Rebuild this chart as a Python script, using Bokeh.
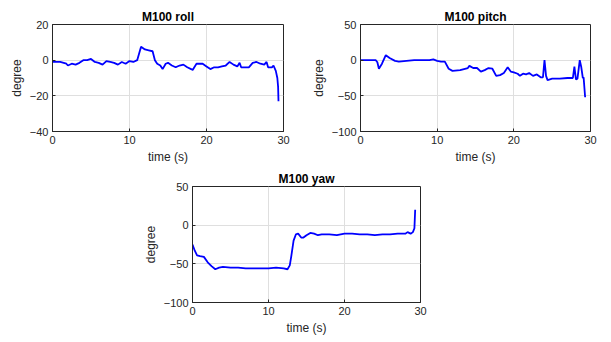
from bokeh.plotting import figure
from bokeh.layouts import column, row
from bokeh.models import Spacer, FixedTicker
from bokeh.embed import file_html
from bokeh.resources import INLINE

roll_t = [0, 1, 1.8, 2, 2.5, 3, 3.5, 4, 4.5, 5, 5.5, 6, 6.5, 7, 7.5, 8, 8.5, 9, 9.5, 10, 10.5, 11,
          11.5, 12, 12.5, 13, 13.3, 13.6, 14, 14.3, 14.7, 15, 15.5, 16, 16.5, 17, 17.5, 18, 18.2,
          18.7, 19.5, 20, 20.5, 21, 21.5, 22, 22.5, 23, 23.5, 24, 24.3, 24.5, 25, 25.5, 26, 26.5,
          27, 27.5, 27.8, 28, 28.5, 28.7, 29, 29.2, 29.3, 29.35]
roll_deg = [-1, -1, -2, -3, -2, -2.5, -1.5, 0, 0, 0.7, -1, -1.5, -2.5, -0.5, -1, -1.5, -2.5, -1, -2,
            -0.5, -1, 0, 7.5, 6, 5.5, 5, 0, -2, -3, -5, -2, -1.5, -3, -4, -3, -2.5, -4, -5, -5.5,
            -2, -2, -3.5, -5, -4, -4, -3.5, -3, -1, -2.5, -3.5, -1.5, -4, -4, -4, -1.5, -1,
            -2, -2.5, -1, -4, -4, -3, -6, -10, -15, -23]

pitch_t = [0, 2, 2.2, 2.4, 2.8, 3.3, 3.8, 4.5, 5, 6, 7, 8, 9, 9.5, 10, 10.5, 11, 11.5, 12, 13, 14,
           14.2, 14.7, 15.2, 15.7, 16.2, 16.7, 17.2, 17.7, 18.2, 18.7, 19.2, 19.6, 20, 20.5, 20.8,
           21.2, 21.6, 22, 22.5, 23, 23.5, 23.8, 24.0, 24.2, 24.4, 25, 26, 27, 27.7, 27.9, 28.1,
           28.3, 28.6, 28.8, 29.0, 29.1, 29.3]
pitch_deg = [0, 0, -3, -12, -5, 7, 3, -1, -2, -1, 0, 0, 0, 1, -1, -2, -2, -12, -15, -14, -11,
             -8, -11, -11, -16, -14, -11, -12, -22, -21, -18, -10, -16, -17, -19, -22,
             -19, -20, -18, -22, -20, -24, -24, 0, -22, -28, -26, -26, -25, -25, -9, -27,
             -26, 0, -10, -25, -24, -52]

yaw_t = [0, 0.3, 0.6, 1, 1.5, 2, 2.5, 3, 3.5, 4, 5, 6, 7, 8, 9, 10, 11, 12, 12.5, 12.8, 13, 13.3,
         13.6, 13.9, 14.3, 14.6, 15, 15.5, 16, 16.5, 17, 18, 19, 20, 21, 22, 23, 24, 25, 26, 27,
         28, 28.3, 28.7, 29, 29.2, 29.3]
yaw_deg = [-25, -33, -39, -40, -41, -48, -53, -57, -55, -54, -55, -55, -56, -56, -56, -56, -55,
           -56, -57, -52, -40, -20, -12, -11, -16, -16, -13, -10, -11, -13, -12, -12, -13, -11,
           -11, -12, -12, -13, -12, -12, -11, -11, -9, -11, -9, -4, 20]

titles = ["M100 roll", "M100 pitch", "M100 yaw"]
x_ticks = [0, 10, 20, 30]
roll_ticks = [-40, -20, 0, 20]
py_ticks = [-100, -50, 0, 50]

FONT = "Liberation Sans"
TXT = "#262626"


def make(title, t, d, yr, yticks, width, height, bl, br, bt, bb):
    p = figure(width=width, height=height, x_range=(0, 30), y_range=yr,
               output_backend="svg", toolbar_location=None,
               min_border_left=bl, min_border_right=br, min_border_top=bt, min_border_bottom=bb)
    p.line(t, d, line_color="#0000FF", line_width=1.8)
    p.title.text = title
    p.title.align = "center"
    p.title.text_font = FONT
    p.title.text_font_size = "12px"
    p.title.text_font_style = "bold"
    p.title.text_color = "black"
    p.title.standoff = 1
    p.title.offset = 0
    p.outline_line_color = "#262626"
    p.outline_line_alpha = 1
    p.outline_line_width = 1
    for ax, ticks, lab in ((p.xaxis[0], x_ticks, "time (s)"), (p.yaxis[0], yticks, "degree")):
        ax.ticker = FixedTicker(ticks=ticks)
        ax.axis_label = lab
        ax.axis_label_text_font = FONT
        ax.axis_label_text_font_size = "12px"
        ax.axis_label_text_font_style = "normal"
        ax.axis_label_text_color = TXT
        ax.axis_label_standoff = 3
        ax.major_label_text_font = FONT
        ax.major_label_text_font_size = "11px"
        ax.major_label_text_color = TXT
        ax.major_label_standoff = 4
        ax.major_tick_in = 3
        ax.major_tick_out = 0
        ax.minor_tick_line_color = None
        ax.axis_line_color = "#262626"
        ax.major_tick_line_color = "#262626"
    p.grid.grid_line_color = "#dfdfdf"
    p.grid.grid_line_width = 1
    p.background_fill_color = "white"
    p.border_fill_color = "white"
    return p


p1 = make(titles[0], roll_t, roll_deg, (-40, 20), roll_ticks, 305, 168, 52, 22, 24, 37)
p2 = make(titles[1], pitch_t, pitch_deg, (-100, 50), py_ticks, 306, 168, 55, 21, 24, 37)
p3 = make(titles[2], yaw_t, yaw_deg, (-100, 50), py_ticks, 300, 174, 50, 20, 18, 40)

layout = column(row(p1, p2), row(Spacer(width=140, height=174), p3))

open("out.html", "w").write(file_html(layout, INLINE))
